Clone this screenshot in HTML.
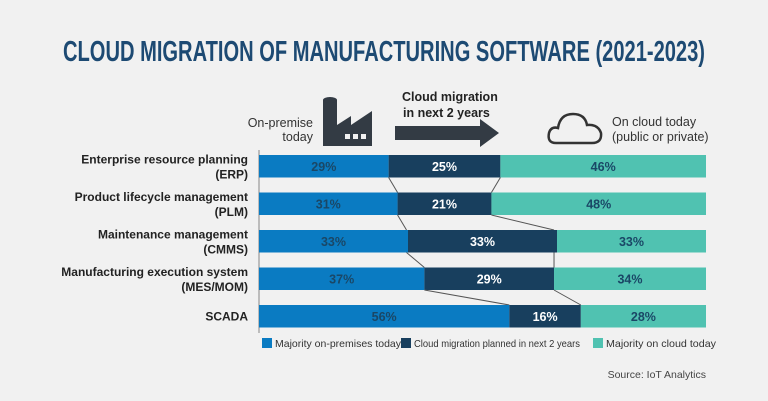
<!DOCTYPE html>
<html><head><meta charset="utf-8">
<style>
body{margin:0;background:#f1f1f1;}
svg{display:block;font-family:"Liberation Sans",sans-serif;}
</style></head>
<body>
<svg id="chart" width="768" height="401" viewBox="0 0 768 401">
<rect width="768" height="401" fill="#f1f1f1"/>
<text x="384" y="61" text-anchor="middle" font-family="'Liberation Sans Narrow','Liberation Sans',sans-serif" font-weight="bold" font-size="29" fill="#1d4a73" textLength="642" lengthAdjust="spacingAndGlyphs">CLOUD MIGRATION OF MANUFACTURING SOFTWARE (2021-2023)</text>
<g>
<text x="313" y="127" text-anchor="end" font-size="12.5" fill="#333">On-premise</text>
<text x="313" y="141" text-anchor="end" font-size="12.5" fill="#333">today</text>
<g fill="#333b44">
<rect x="323" y="100" width="14" height="46"/><ellipse cx="330" cy="100" rx="7" ry="3"/>
<polygon points="337,146 337,125 351,116 351,125 372,111 372,146"/>
<rect x="345" y="134" width="5" height="5" fill="#f1f1f1"/><rect x="353" y="134" width="5" height="5" fill="#f1f1f1"/><rect x="361" y="134" width="5" height="5" fill="#f1f1f1"/>
</g></g>
<g>
<text x="402" y="101" font-size="12.5" font-weight="bold" fill="#222">Cloud migration</text>
<text x="403" y="117" font-size="12.5" font-weight="bold" fill="#222">in next 2 years</text>
<polygon points="395,126 480,126 480,119 499,133 480,147 480,140 395,140" fill="#333b44"/>
</g>
<g>
<path d="M556,143 Q547,143 549,133 Q551,126 558,128 Q560,114 573,114 Q585,114 587,125 Q598,124 601,133 Q602,143 592,143 Z" fill="none" stroke="#333" stroke-width="2.5"/>
<text x="612" y="126" font-size="12.5" fill="#333">On cloud today</text>
<text x="612" y="141" font-size="12.5" fill="#333">(public or private)</text>
</g>
<line x1="259" y1="150" x2="259" y2="333" stroke="#888" stroke-width="1"/>
<g id="bars"></g>
<g id="legend" font-size="10.5" fill="#333"></g>
<text x="706" y="378" text-anchor="end" font-size="10.5" fill="#444">Source: IoT Analytics</text>
</svg>
<script>
const categories=["Enterprise resource planning|(ERP)","Product lifecycle management|(PLM)","Maintenance management|(CMMS)","Manufacturing execution system|(MES/MOM)","SCADA"];
const onPremise=[29,31,33,37,56];
const migration=[25,21,33,29,16];
const onCloud=[46,48,33,34,28];
const seriesNames=["Majority on-premises today","Cloud migration planned in next 2 years","Majority on cloud today"];
const colors=["#0a7bc2","#183f5e","#50c2b1"];
const textColors=["#1a4766","#ffffff","#1a4766"];
const X0=259,W=447,Y0=155,PITCH=37.5,BH=22.5;
const NS="http://www.w3.org/2000/svg";
const g=document.getElementById('bars');
function xs(v){return X0+v/100*W;}
function ys(i){return Y0+i*PITCH;}
function mk(t,a){const e=document.createElementNS(NS,t);for(const k in a)e.setAttribute(k,a[k]);return e;}
const series=[onPremise,migration,onCloud];
const segNames=["bar-on-premise","bar-migration","bar-cloud"];
categories.forEach((c,i)=>{
  let acc=0;const tot=onPremise[i]+migration[i]+onCloud[i];
  series.forEach((s,k)=>{
    const v=s[i]/tot*100;
    const r=mk('rect',{x:xs(acc),y:ys(i),width:xs(acc+v)-xs(acc),height:BH,fill:colors[k]});
    
    
    g.appendChild(r);
    const t=mk('text',{x:(xs(acc)+xs(acc+v))/2,y:ys(i)+BH/2+4.5,'text-anchor':'middle','font-size':12.5,'font-weight':'bold',fill:textColors[k]});
    t.textContent=s[i]+'%';
    
    
    g.appendChild(t);
    acc+=v;
  });
  const parts=c.split('|');
  const cy=ys(i)+BH/2;
  parts.forEach((p,j)=>{
    const t=mk('text',{x:248,y:parts.length===1?cy+4:cy-3+j*15,'text-anchor':'end','font-size':12,'font-weight':'bold',fill:'#222'});
    t.textContent=p;
    
    
    g.appendChild(t);
  });
  if(i<categories.length-1){
    const b1=onPremise[i],b2=onPremise[i+1];
    const m1=onPremise[i]+migration[i],m2=onPremise[i+1]+migration[i+1];
    [[b1,b2],[m1,m2]].forEach(([a,b])=>{
      const l=mk('line',{x1:xs(a),y1:ys(i)+BH,x2:xs(b),y2:ys(i+1),stroke:'#555','stroke-width':1});
      
      
      g.appendChild(l);
    });
  }
});
const lg=document.getElementById('legend');
const lx=[262,401,593];
const lw=[126,166,110];
seriesNames.forEach((n,k)=>{
  const r=mk('rect',{x:lx[k],y:338,width:10,height:10,fill:colors[k]});
  
  
  lg.appendChild(r);
  const t=mk('text',{x:lx[k]+13,y:347,textLength:lw[k],lengthAdjust:'spacingAndGlyphs'});
  t.textContent=n;
  
  
  lg.appendChild(t);
});
</script>
</body></html>
